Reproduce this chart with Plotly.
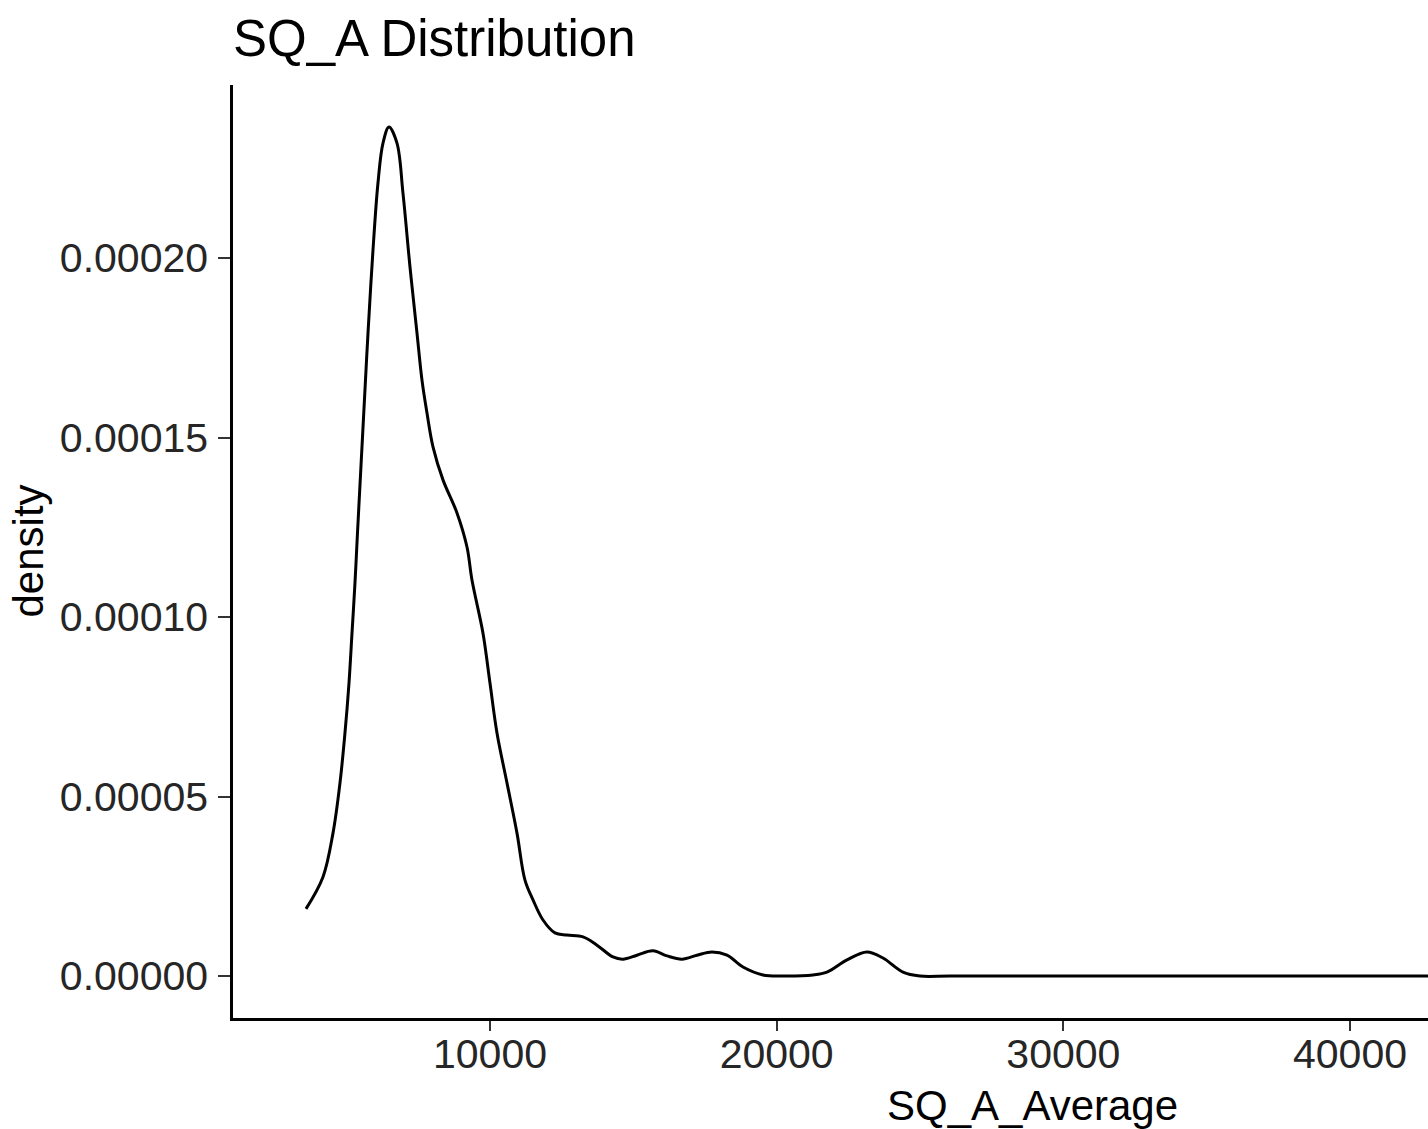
import plotly.graph_objects as go

# Density curve
sq_a_average = [3582, 4175, 4524, 4768, 4942, 5082, 5187, 5291, 5378, 5535, 5657, 5745,
                5919, 6093, 6268, 6477, 6756, 6965, 7210, 7454, 7628, 7803, 8012, 8361,
                8849, 9198, 9372, 9756, 10000, 10244, 10593, 10942, 11221, 11500, 11849,
                12267, 12686, 13244, 13732, 14290, 14639, 15128, 15685, 16174, 16697,
                17220, 17743, 18267, 18825, 19522, 20220, 21266, 21755, 22452, 23150,
                23708, 24405, 24998, 26044, 30000, 40000, 55000]
density = [1.87e-5, 2.76e-5, 3.98e-5, 5.38e-5, 6.77e-5, 8.16e-5, 9.55e-5, 1.095e-4,
           1.234e-4, 1.474e-4, 1.660e-4, 1.791e-4, 2.022e-4, 2.209e-4, 2.320e-4,
           2.365e-4, 2.320e-4, 2.181e-4, 1.975e-4, 1.791e-4, 1.660e-4, 1.568e-4,
           1.474e-4, 1.382e-4, 1.290e-4, 1.195e-4, 1.103e-4, 9.55e-5, 8.16e-5, 6.77e-5,
           5.38e-5, 3.98e-5, 2.67e-5, 2.12e-5, 1.56e-5, 1.20e-5, 1.14e-5, 1.09e-5,
           8.6e-6, 5.3e-6, 4.7e-6, 5.8e-6, 7.0e-6, 5.6e-6, 4.7e-6, 5.8e-6, 6.7e-6,
           5.8e-6, 2.5e-6, 3e-7, 0.0, 3e-7, 1.1e-6, 4.5e-6, 6.7e-6, 5.0e-6, 1.1e-6,
           0.0, 0.0, 0.0, 0.0, 0.0]

x_ticks = [10000, 20000, 30000, 40000]
x_tick_labels = ["10000", "20000", "30000", "40000"]
y_ticks = [0.0, 0.00005, 0.00010, 0.00015, 0.00020]
y_tick_labels = ["0.00000", "0.00005", "0.00010", "0.00015", "0.00020"]

title_text = "SQ_A Distribution"
x_title = "SQ_A_Average"
y_title = "density"

W, H = 1428, 1129
L, R, T, B = 233, 0, 85, 111

FONT = "Liberation Sans, Arial, Helvetica, sans-serif"

fig = go.Figure()
fig.add_trace(go.Scatter(
    x=sq_a_average, y=density, mode="lines",
    line=dict(color="black", width=3, shape="spline", smoothing=1.0),
    showlegend=False, hoverinfo="skip",
))

axis_common = dict(
    showgrid=False, zeroline=False,
    showline=True, linecolor="black", linewidth=2.5,
    ticks="outside", tickwidth=2.2, tickcolor="#333333",
    tickfont=dict(family=FONT, size=41, color="#262626"),
)

fig.update_xaxes(range=[1036, 42720], tickvals=x_ticks, ticktext=x_tick_labels,
                 ticklen=10, ticklabelstandoff=-12, **axis_common)
fig.update_yaxes(range=[-0.0000117, 0.0002482], tickvals=y_ticks,
                 ticktext=y_tick_labels, ticklen=12, ticklabelstandoff=2,
                 **axis_common)

fig.update_layout(
    width=W, height=H,
    margin=dict(l=L, r=R, t=T, b=B, pad=0),
    plot_bgcolor="white", paper_bgcolor="white",
    title=dict(text=title_text, x=L / W, xanchor="left", xref="container",
               y=1 - 38 / H, yanchor="middle", yref="container",
               font=dict(family=FONT, size=51, color="black")),
    annotations=[
        dict(text=x_title, xref="paper", yref="paper",
             x=(1032 - L) / (W - L), y=0, yshift=-87,
             xanchor="center", yanchor="middle", showarrow=False,
             font=dict(family=FONT, size=42, color="black")),
        dict(text=y_title, xref="paper", yref="paper",
             x=0, y=0.5, xshift=28 - L, textangle=-90,
             xanchor="center", yanchor="middle", showarrow=False,
             font=dict(family=FONT, size=42, color="black")),
    ],
)

fig.write_html("out.html")
